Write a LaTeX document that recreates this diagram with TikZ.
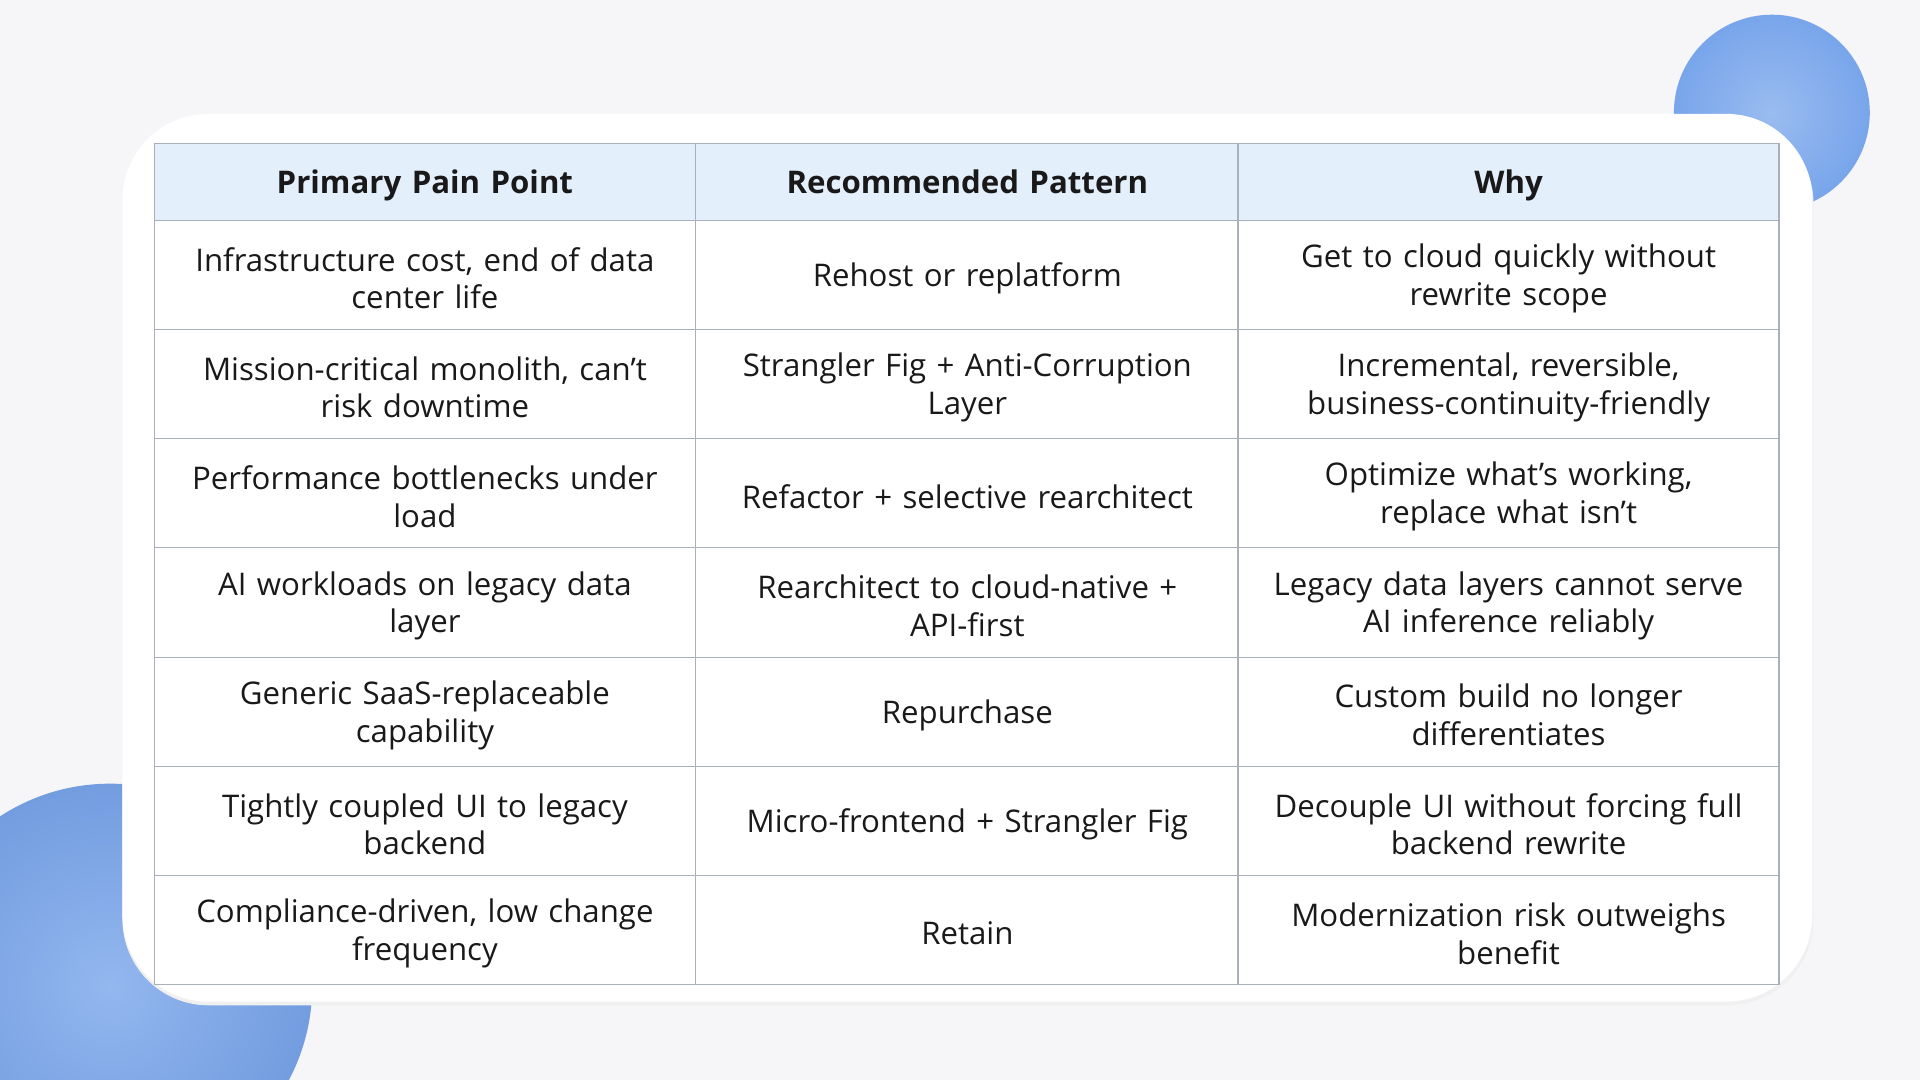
\documentclass[tikz,border=0pt]{standalone}
\usepackage{fontspec}
\setmainfont{Open Sans}
\definecolor{bgpage}{RGB}{246,245,247}
\definecolor{blobblue}{RGB}{120,165,235}
\definecolor{headfill}{RGB}{228,239,252}
\definecolor{gridline}{RGB}{170,176,186}
\newlength{\pxu}\setlength{\pxu}{0.02cm}
\tikzset{
  cell/.style={align=center,text width=400\pxu,font=\fontsize{14.5}{17.5}\selectfont,text=black!90},
  head/.style={cell,font=\fontsize{14.5}{17}\selectfont\bfseries,text height=11pt,text depth=3pt}
}
\begin{document}
\begin{tikzpicture}[x=0.02cm,y=-0.02cm]
\fill[bgpage] (0,0) rectangle (1568,882);
\useasboundingbox (0,0) rectangle (1568,882);
%
% blobs
\begin{scope}
\clip (0,0) rectangle (1568,882);
\shade[inner color=blobblue!75,outer color=blobblue] (1447,92) circle (80);
\shade[inner color=blobblue!80,outer color=blobblue!95!black] (90,805) circle (165);
\end{scope}
%
% card
\fill[black!6,rounded corners=40] (100,96) rectangle (1481,821);
\fill[white,rounded corners=40] (100,93) rectangle (1480,818);
\fill[headfill] (126,117) rectangle (1453,180);
\draw[gridline,line width=0.7pt] (126,117) rectangle (1453,804);
\foreach \xv in {568,1011}
\draw[gridline,line width=0.7pt] (\xv,117) -- (\xv,804);
\foreach \yv in {180,269,358,447,537,626,715}
\draw[gridline,line width=0.7pt] (126,\yv) -- (1453,\yv);
%
% header
\node[head] (h1) at (347,151) {Primary Pain Point};
\node[head] (h2) at (790,151) {Recommended Pattern};
\node[head] (h3) at (1232,151) {Why};
%
% rows
\foreach [count=\i] \a/\b/\c in {%
{Infrastructure cost, end of data\\center life}/{Rehost or replatform}/{Get to cloud quickly without\\rewrite scope},
{Mission-critical monolith, can't\\risk downtime}/{Strangler Fig + Anti-Corruption\\Layer}/{Incremental, reversible,\\business-continuity-friendly},
{Performance bottlenecks under\\load}/{Refactor + selective rearchitect}/{Optimize what's working,\\replace what isn't},
{AI workloads on legacy data\\layer}/{Rearchitect to cloud-native +\\API-first}/{Legacy data layers cannot serve\\AI inference reliably},
{Generic SaaS-replaceable\\capability}/{Repurchase}/{Custom build no longer\\differentiates},
{Tightly coupled UI to legacy\\backend}/{Micro-frontend + Strangler Fig}/{Decouple UI without forcing full\\backend rewrite},
{Compliance-driven, low change\\frequency}/{Retain}/{Modernization risk outweighs\\benefit}}
{
\node[cell] (pain\i) at (347,138+89.2*\i) {\a};
\node[cell] (pattern\i) at (790,138+89.2*\i) {\b};
\node[cell] (why\i) at (1232,138+89.2*\i) {\c};
}
\end{tikzpicture}
\end{document}
